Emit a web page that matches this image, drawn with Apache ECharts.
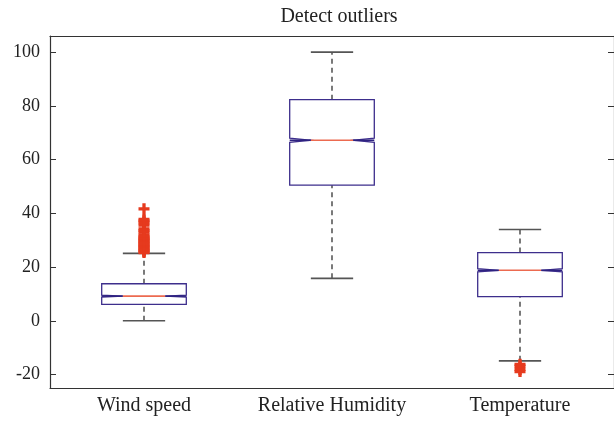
<!DOCTYPE html>
<html>
<head>
<meta charset="utf-8">
<script src="https://cdn.jsdelivr.net/npm/echarts@6/dist/echarts.min.js"></script>
<style>html,body{margin:0;padding:0;background:#fff}#c{width:614px;height:421px}</style>
</head>
<body>
<div id="c"></div>
<script>
const categories = ['Wind speed', 'Relative Humidity', 'Temperature'];
const lowerWhisker = [0, 15.8, -14.9];
const q1 = [6.1, 50.5, 9.0];
const median = [9.2, 67.2, 18.8];
const q3 = [13.8, 82.3, 25.4];
const upperWhisker = [25.1, 100, 34.0];
const notchHalf = [0.4, 0.8, 0.6];
const windOutliers = [25.4, 25.8, 26.2, 26.6, 27.0, 27.4, 27.8, 28.2, 28.6, 29.0, 29.4, 29.8, 30.2, 30.6, 31.0, 31.5, 32.0, 33.0, 33.6, 34.2, 35.6, 36.5, 37.2, 37.7, 41.7];
const tempOutliers = [-16.2, -16.9, -18.1, -18.9];
const yTicks = [-20, 0, 20, 40, 60, 80, 100];

const FONT = 'Liberation Serif';
const boxData = categories.map((c, i) => [i, lowerWhisker[i], q1[i], median[i], q3[i], upperWhisker[i], notchHalf[i]]);

function renderItem(params, api) {
  const i = api.value(0);
  const lo = api.value(1), a = api.value(2), m = api.value(3), b = api.value(4), hi = api.value(5), n = api.value(6);
  const band = api.size([1, 0])[0];
  const hw = band * 0.225, cw = band * 0.1125;
  const cx = api.coord([i, 0])[0];
  const y = v => api.coord([i, v])[1];
  const dash = { stroke: '#222', lineWidth: 1.2, lineDash: [5, 4] };
  const cap = { stroke: '#555', lineWidth: 1.6 };
  return {
    type: 'group',
    children: [
      { type: 'line', shape: { x1: cx, y1: y(b), x2: cx, y2: y(hi) }, style: dash },
      { type: 'line', shape: { x1: cx, y1: y(lo), x2: cx, y2: y(a) }, style: dash },
      { type: 'line', shape: { x1: cx - cw, y1: y(hi), x2: cx + cw, y2: y(hi) }, style: cap },
      { type: 'line', shape: { x1: cx - cw, y1: y(lo), x2: cx + cw, y2: y(lo) }, style: cap },
      { type: 'polygon', shape: { points: [
          [cx - hw, y(b)], [cx + hw, y(b)], [cx + hw, y(m + n)], [cx + cw, y(m)], [cx + hw, y(m - n)],
          [cx + hw, y(a)], [cx - hw, y(a)], [cx - hw, y(m - n)], [cx - cw, y(m)], [cx - hw, y(m + n)]
        ] }, style: { fill: 'none', stroke: '#3d2e8c', lineWidth: 1.3 } },
      { type: 'line', shape: { x1: cx - hw, y1: y(m), x2: cx - cw, y2: y(m) }, style: { stroke: '#2e2280', lineWidth: 1.6 } },
      { type: 'line', shape: { x1: cx + cw, y1: y(m), x2: cx + hw, y2: y(m) }, style: { stroke: '#2e2280', lineWidth: 1.6 } },
      { type: 'line', shape: { x1: cx - cw, y1: y(m), x2: cx + cw, y2: y(m) }, style: { stroke: '#ec6a50', lineWidth: 1.6 } }
    ]
  };
}

const crossPath = 'path://M3.5,0H6.5V3.5H10V6.5H6.5V10H3.5V6.5H0V3.5H3.5Z';
const axisLineStyle = { color: '#333', width: 1.2 };

const chart = echarts.init(document.getElementById('c'), null, { renderer: 'canvas' });
chart.setOption({
  animation: false,
  backgroundColor: '#fff',
  title: {
    text: 'Detect outliers', left: 334, top: 2, textAlign: 'center',
    textStyle: { fontFamily: FONT, fontSize: 20, fontWeight: 'normal', color: '#222' }
  },
  grid: { left: 50, top: 36, right: -4, bottom: 33 },
  xAxis: [
    {
      type: 'category', data: categories, position: 'bottom',
      axisLine: { onZero: false, lineStyle: axisLineStyle },
      axisTick: { alignWithLabel: true, interval: 0, inside: true, length: 5, lineStyle: { color: '#333' } },
      axisLabel: { interval: 0, hideOverlap: false, fontFamily: FONT, fontSize: 20, color: '#222', margin: 8 },
      splitLine: { show: false }
    },
    {
      type: 'category', data: categories, position: 'top',
      axisLine: { onZero: false, lineStyle: axisLineStyle },
      axisTick: { alignWithLabel: true, interval: 0, inside: true, length: 5, lineStyle: { color: '#333' } },
      axisLabel: { show: false, interval: 0 },
      splitLine: { show: false }
    }
  ],
  yAxis: [
    {
      type: 'value', min: -25, max: 106, position: 'left',
      axisLine: { show: true, onZero: false, lineStyle: axisLineStyle },
      axisTick: { show: true, inside: true, length: 6, customValues: yTicks, lineStyle: { color: '#333' } },
      axisLabel: { customValues: yTicks, fontFamily: FONT, fontSize: 18, color: '#222', margin: 10 },
      splitLine: { show: false }
    },
    {
      type: 'value', min: -25, max: 106, position: 'right',
      axisLine: { show: true, onZero: false, lineStyle: axisLineStyle },
      axisTick: { show: true, inside: true, length: 6, customValues: yTicks, lineStyle: { color: '#333' } },
      axisLabel: { show: false },
      splitLine: { show: false }
    }
  ],
  series: [
    {
      type: 'custom', xAxisIndex: 0, yAxisIndex: 0,
      renderItem: renderItem,
      encode: { x: 0, y: [1, 2, 3, 4, 5] },
      data: boxData, z: 2
    },
    {
      type: 'scatter', xAxisIndex: 0, yAxisIndex: 0,
      symbol: crossPath, symbolSize: [11, 11],
      itemStyle: { color: '#e63a1e', opacity: 1 },
      data: windOutliers.map(v => [0, v]).concat(tempOutliers.map(v => [2, v])),
      z: 5
    }
  ]
});
</script>
</body>
</html>
